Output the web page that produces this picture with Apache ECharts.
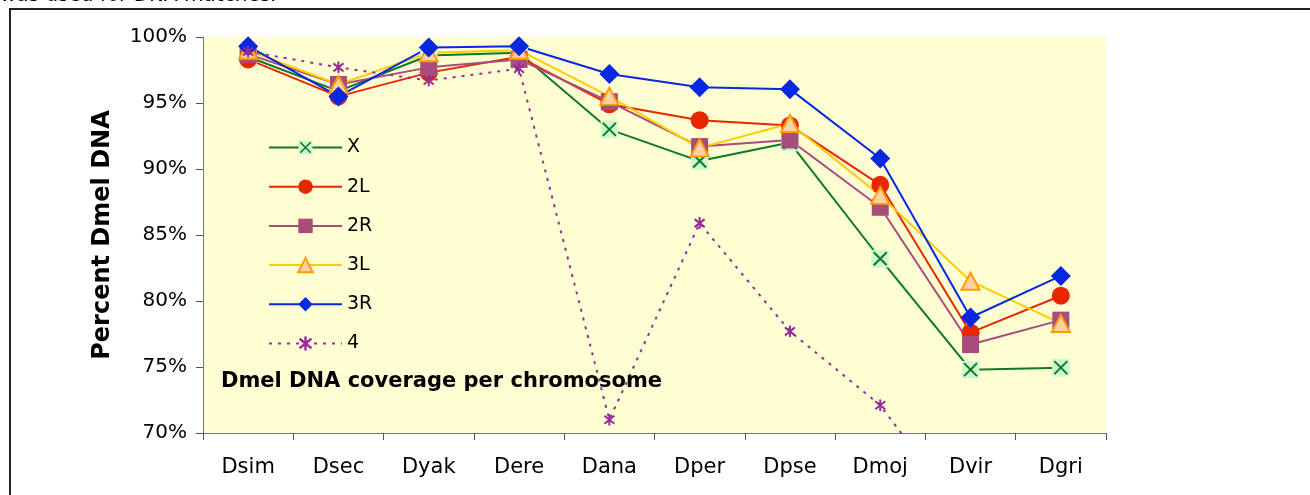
<!DOCTYPE html>
<html>
<head>
<meta charset="utf-8">
<script src="https://cdn.jsdelivr.net/npm/echarts@6/dist/echarts.min.js"></script>
<style>
  html, body { margin: 0; padding: 0; background: #fff; }
  #chart { width: 1310px; height: 495px; }
</style>
</head>
<body>
<div id="chart"></div>
<script>
// species (x axis)
var categories = ['Dsim', 'Dsec', 'Dyak', 'Dere', 'Dana', 'Dper', 'Dpse', 'Dmoj', 'Dvir', 'Dgri'];
// percent of Dmel DNA covered, per chromosome arm
var chrX  = [98.5, 95.9, 98.6, 98.8, 93.0, 90.6, 92.0, 83.2, 74.8, 74.95];
var chr2L = [98.3, 95.5, 97.3, 98.5, 94.9, 93.7, 93.3, 88.8, 77.6, 80.4];
var chr2R = [98.7, 96.4, 97.7, 98.3, 95.1, 91.7, 92.2, 87.1, 76.7, 78.55];
var chr3L = [99.0, 96.4, 98.8, 99.0, 95.5, 91.6, 93.45, 88.0, 81.5, 78.3];
var chr3R = [99.3, 95.5, 99.2, 99.3, 97.2, 96.2, 96.05, 90.8, 78.75, 81.9];
var chr4  = [98.9, 97.7, 96.7, 97.6, 71.0, 85.9, 77.7, 72.1, 63.0, 62.0];
var yTicks = [70, 75, 80, 85, 90, 95, 100];

var FONT = 'DejaVu Sans';

// marker images (X on light green square, asterisk for chromosome 4)
function svgUri(s) { return 'image://data:image/svg+xml;charset=utf-8,' + encodeURIComponent(s); }
var xMark = svgUri('<svg xmlns="http://www.w3.org/2000/svg" width="18" height="18" viewBox="0 0 18 18">' +
    '<rect x="0" y="0" width="18" height="18" fill="#ccf7cf"/>' +
    '<path d="M2.5 2.5 L15.5 15.5 M15.5 2.5 L2.5 15.5" stroke="#0b7a24" stroke-width="2" fill="none"/></svg>');
var starMark = svgUri('<svg xmlns="http://www.w3.org/2000/svg" width="12" height="12" viewBox="0 0 12 12">' +
    '<path d="M6 0 L6 12 M1 2 L11 10 M1 10 L11 2" stroke="#962d9a" stroke-width="2" fill="none"/></svg>');

var chart = echarts.init(document.getElementById('chart'));

var option = {
    animation: false,
    backgroundColor: '#fff',
    graphic: [
        {   // outer frame of the excel chart
            type: 'rect', z: 0,
            shape: { x: 10, y: 9, width: 1400, height: 600 },
            style: { fill: 'none', stroke: '#222', lineWidth: 2 }
        },
        {   // cut-off line of text above the chart
            type: 'text', left: 0, top: -14,
            style: { text: 'was used for DNA matches.', font: '20px "DejaVu Sans"', fill: '#000' }
        }
    ],
    title: {
        text: 'Dmel DNA coverage per chromosome',
        left: 221, top: 371, padding: 0,
        textStyle: { fontFamily: FONT, fontWeight: 'bold', fontSize: 21, color: '#000' }
    },
    legend: {
        orient: 'vertical',
        left: 268, top: 138, padding: 0,
        itemWidth: 73, itemHeight: 18, itemGap: 20.2,
        textStyle: { fontFamily: FONT, fontSize: 19, color: '#000' },
        data: ['X', '2L', '2R', '3L', '3R', '4']
    },
    grid: {
        left: 203, right: 204, top: 37, bottom: 62,
        show: true, backgroundColor: '#fffdd2', borderWidth: 0
    },
    xAxis: {
        type: 'category',
        data: categories,
        boundaryGap: true,
        axisLine: { lineStyle: { color: '#777', width: 1 } },
        axisTick: { show: true, length: 7, lineStyle: { color: '#555' } },
        axisLabel: { fontFamily: FONT, fontSize: 21, color: '#000', margin: 24 }
    },
    yAxis: {
        type: 'value',
        min: yTicks[0], max: yTicks[yTicks.length - 1], interval: 5,
        name: 'Percent Dmel DNA',
        nameLocation: 'middle', nameGap: 88, nameRotate: 90,
        nameTextStyle: { fontFamily: FONT, fontWeight: 'bold', fontSize: 24, color: '#000' },
        axisLine: { show: true, lineStyle: { color: '#777', width: 1 } },
        axisTick: { show: true, length: 7, lineStyle: { color: '#555' } },
        splitLine: { show: false },
        axisLabel: { fontFamily: FONT, fontSize: 20, color: '#000', margin: 16, formatter: '{value}%' }
    },
    series: [
        {
            name: 'X', type: 'line', data: chrX, clip: true,
            symbol: xMark, symbolSize: 18,
            lineStyle: { color: '#0b7a24', width: 2 },
            itemStyle: { color: '#0b7a24' }
        },
        {
            name: '2L', type: 'line', data: chr2L, clip: true,
            symbol: 'circle', symbolSize: 18,
            lineStyle: { color: '#e82700', width: 2 },
            itemStyle: { color: '#e82700' }
        },
        {
            name: '2R', type: 'line', data: chr2R, clip: true,
            symbol: 'rect', symbolSize: 17,
            lineStyle: { color: '#a84c7c', width: 2 },
            itemStyle: { color: '#a84c7c' }
        },
        {
            name: '3L', type: 'line', data: chr3L, clip: true,
            symbol: 'triangle', symbolSize: [18, 17],
            lineStyle: { color: '#ffcc00', width: 2 },
            itemStyle: { color: '#ffd2a6', borderColor: '#ff9c00', borderWidth: 2 }
        },
        {
            name: '3R', type: 'line', data: chr3R, clip: true,
            symbol: 'diamond', symbolSize: 20,
            lineStyle: { color: '#0528e0', width: 2 },
            itemStyle: { color: '#0528e0' }
        },
        {
            name: '4', type: 'line', data: chr4, clip: true,
            symbol: starMark, symbolSize: 12,
            lineStyle: { color: '#962d9a', width: 2, type: [3, 6] },
            itemStyle: { color: '#962d9a' }
        }
    ]
};

chart.setOption(option);
</script>
</body>
</html>
